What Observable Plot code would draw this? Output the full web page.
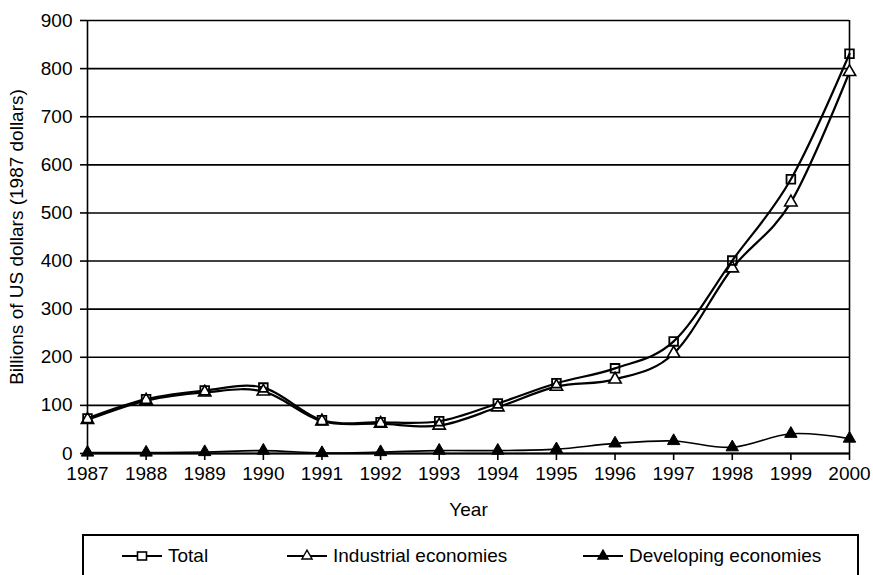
<!DOCTYPE html>
<html>
<head>
<meta charset="utf-8">
<script src="https://cdn.jsdelivr.net/npm/d3@7"></script>
<script src="https://cdn.jsdelivr.net/npm/@observablehq/plot@0.6"></script>
<style>
  html, body { margin: 0; padding: 0; background: #fff; }
  #wrap { position: relative; width: 873px; height: 575px; overflow: hidden; font-family: "Liberation Sans", Arial, sans-serif; }
  #legend {
    position: absolute; left: 82px; top: 534px; width: 777px; height: 60px;
    border: 2px solid #000; box-sizing: border-box;
    font-size: 19px; color: #000;
  }
  .item { position: absolute; top: 9px; display: flex; align-items: center; }
  .item svg { margin-right: 6px; }
</style>
</head>
<body>
<div id="wrap">
  <div id="chart"></div>
  <div id="legend"></div>
</div>
<script>
// Annual values, billions of 1987 US dollars
const years = [1987, 1988, 1989, 1990, 1991, 1992, 1993, 1994, 1995, 1996, 1997, 1998, 1999, 2000];
const total = [73, 113, 131, 137, 69, 65, 67, 104, 146, 177, 233, 401, 570, 831];
const industrial = [70, 110, 127, 129, 67, 62, 58, 96, 139, 154, 208, 385, 522, 793];
const developing = [2, 2, 3, 6, 1, 3, 6, 6, 9, 21, 26, 13, 41, 31];
const yTicks = [0, 100, 200, 300, 400, 500, 600, 700, 800, 900];

const seriesNames = ["Total", "Industrial economies", "Developing economies"];
const seriesValues = [total, industrial, developing];

const rows = seriesNames.flatMap((name, i) =>
  years.map((year, j) => ({series: name, year, value: seriesValues[i][j]}))
);
const bySeries = name => rows.filter(d => d.series === name);

const chart = Plot.plot({
  width: 873,
  height: 520,
  marginLeft: 87,
  marginRight: 24,
  marginTop: 20,
  marginBottom: 67,
  style: {fontFamily: "'Liberation Sans', Arial, sans-serif", fontSize: "19px", color: "#000", background: "#fff", overflow: "visible"},
  x: {domain: [1987, 2000]},
  y: {domain: [0, 900]},
  marks: [
    Plot.ruleY(yTicks, {stroke: "#000", strokeWidth: 1.6}),
    Plot.ruleX([2000], {stroke: "#000", strokeWidth: 1.6}),
    Plot.ruleX([1987], {stroke: "#000", strokeWidth: 1.6}),
    Plot.axisY({ticks: yTicks, tickSize: 7, tickPadding: 8, tickFormat: "d", fontSize: 19, stroke: "#000", strokeWidth: 1.6,
      label: "Billions of US dollars (1987 dollars)", labelAnchor: "center", labelArrow: "none", labelOffset: 78}),
    Plot.axisX({ticks: years, tickSize: 7, tickPadding: 6, tickFormat: "d", fontSize: 19, stroke: "#000", strokeWidth: 1.6,
      label: "Year", labelAnchor: "center", labelArrow: "none", labelOffset: 62}),
    Plot.ruleY([0], {stroke: "#000", strokeWidth: 2.2}),
    Plot.line(bySeries("Developing economies"), {x: "year", y: "value", curve: "cardinal", tension: 0, stroke: "#000", strokeWidth: 1.6}),
    Plot.line(bySeries("Industrial economies"), {x: "year", y: "value", curve: "cardinal", tension: 0, stroke: "#000", strokeWidth: 2.2}),
    Plot.line(bySeries("Total"), {x: "year", y: "value", curve: "cardinal", tension: 0, stroke: "#000", strokeWidth: 2.2}),
    Plot.dot(bySeries("Developing economies"), {x: "year", y: "value", symbol: "triangle", r: 4.6, fill: "#000", stroke: "#000", strokeWidth: 1}),
    Plot.dot(bySeries("Industrial economies"), {x: "year", y: "value", symbol: "triangle", r: 4.6, fill: "#fff", stroke: "#000", strokeWidth: 1.6}),
    Plot.dot(bySeries("Total"), {x: "year", y: "value", symbol: "square", r: 4.9, fill: "none", stroke: "#000", strokeWidth: 1.8})
  ]
});
document.getElementById("chart").appendChild(chart);

// Legend entries: line with marker, then the series name
const legend = document.getElementById("legend");
const legendX = [38, 203, 499];
const swatch = (kind) => {
  const svg = d3.create("svg").attr("width", 40).attr("height", 16);
  svg.append("line").attr("x1", 0).attr("x2", 40).attr("y1", 8).attr("y2", 8).attr("stroke", "#000").attr("stroke-width", 1.8);
  if (kind === 0) {
    svg.append("rect").attr("x", 15.5).attr("y", 4).attr("width", 9).attr("height", 8).attr("fill", "#fff").attr("stroke", "#000").attr("stroke-width", 1.6);
  } else {
    svg.append("path").attr("transform", "translate(20,8)")
      .attr("d", d3.symbol(d3.symbolTriangle, 45)())
      .attr("fill", kind === 2 ? "#000" : "#fff").attr("stroke", "#000").attr("stroke-width", 1.4);
  }
  return svg.node();
};
seriesNames.forEach((name, i) => {
  const item = document.createElement("div");
  item.className = "item";
  item.style.left = legendX[i] + "px";
  item.appendChild(swatch(i));
  const label = document.createElement("span");
  label.textContent = name;
  item.appendChild(label);
  legend.appendChild(item);
});
</script>
</body>
</html>
